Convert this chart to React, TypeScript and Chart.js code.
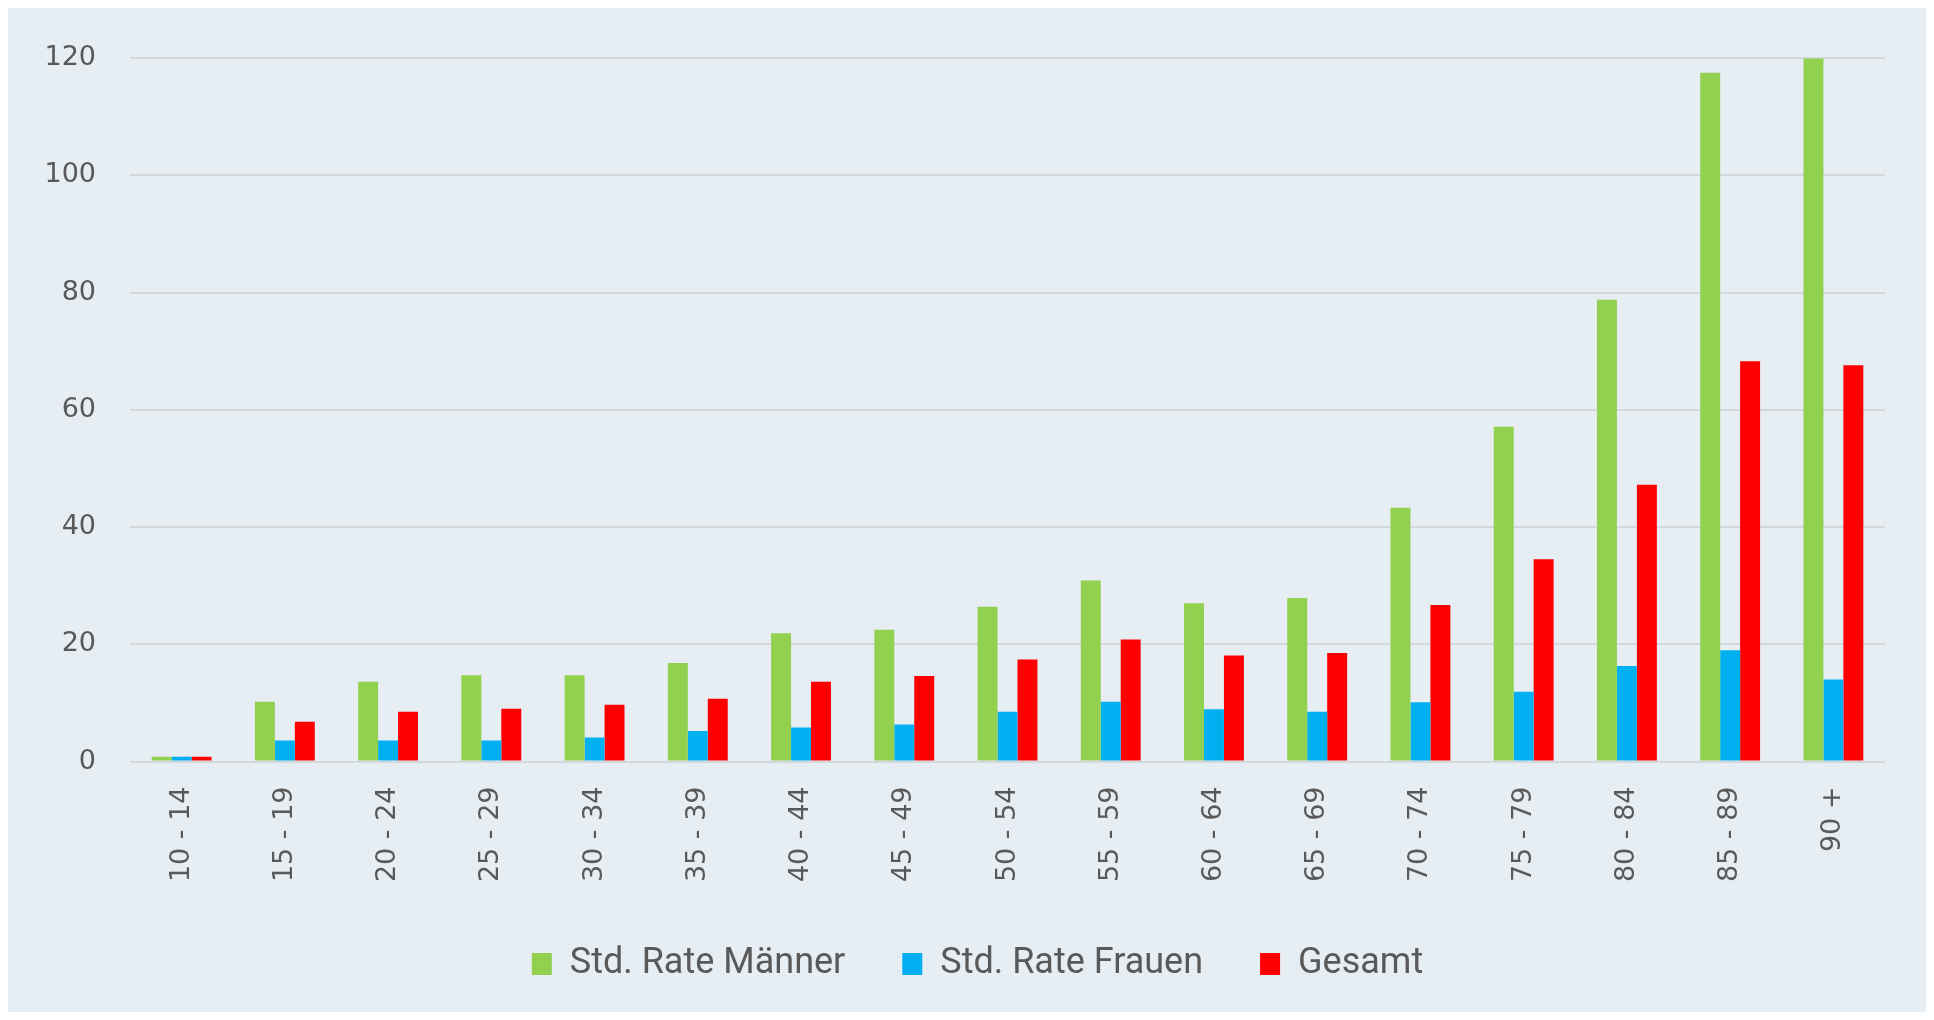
import React, { useEffect, useRef } from "react";
import { Chart, registerables } from "chart.js";

Chart.register(...registerables);

const categories = [
  "10 - 14", "15 - 19", "20 - 24", "25 - 29", "30 - 34", "35 - 39", "40 - 44", "45 - 49",
  "50 - 54", "55 - 59", "60 - 64", "65 - 69", "70 - 74", "75 - 79", "80 - 84", "85 - 89", "90 +",
];
const maenner = [0.8, 10.2, 13.6, 14.7, 14.7, 16.8, 21.9, 22.5, 26.4, 30.9, 27.0, 27.9, 43.3, 57.1, 78.8, 117.5, 120];
const frauen = [0.8, 3.6, 3.6, 3.6, 4.1, 5.2, 5.8, 6.3, 8.5, 10.2, 8.9, 8.5, 10.1, 11.9, 16.3, 19.0, 14.0];
const gesamt = [0.8, 6.8, 8.5, 9.0, 9.7, 10.7, 13.6, 14.6, 17.4, 20.8, 18.1, 18.5, 26.7, 34.5, 47.2, 68.3, 67.6];
const yTicks = [0, 20, 40, 60, 80, 100, 120];

const BG = "#e6edf3";
const TEXT = "#595959";

const bgPlugin = {
  id: "bgFill",
  beforeDraw(chart: any) {
    const { ctx, width, height } = chart;
    ctx.save();
    ctx.fillStyle = BG;
    ctx.fillRect(0, 0, width, height);
    ctx.restore();
  },
};

const legendShift = {
  id: "legendShift",
  afterLayout(chart: any) {
    if (chart.legend) {
      chart.legend.left += 31;
      chart.legend.right += 31;
    }
  },
};

export default function App() {
  const ref = useRef<HTMLCanvasElement | null>(null);
  useEffect(() => {
    if (!ref.current) return;
    const chart = new Chart(ref.current, {
      type: "bar",
      data: {
        labels: categories,
        datasets: [
          { label: "Std. Rate Männer", data: maenner, backgroundColor: "#92d050" },
          { label: "Std. Rate Frauen", data: frauen, backgroundColor: "#00b0f0" },
          { label: "Gesamt", data: gesamt, backgroundColor: "#ff0000" },
        ],
      },
      options: {
        responsive: false,
        animation: false,
        maintainAspectRatio: false,
        datasets: { bar: { categoryPercentage: 0.58, barPercentage: 1.0 } },
        layout: { padding: { top: 46, right: 41, left: 0, bottom: 20 } },
        plugins: {
          tooltip: { enabled: false },
          legend: {
            position: "bottom",
            labels: {
              color: TEXT,
              font: { family: "Roboto, sans-serif", size: 36 },
              boxWidth: 20,
              boxHeight: 22,
              padding: 57,
            },
          },
        },
        scales: {
          x: {
            grid: { display: false, drawTicks: false },
            border: { display: false },
            ticks: {
              color: TEXT,
              font: { family: "'DejaVu Sans', sans-serif", size: 27 },
              minRotation: 90,
              maxRotation: 90,
              padding: 25,
              autoSkip: false,
            },
            afterFit: (s: any) => {
              s.height = 127.5;
            },
          },
          y: {
            min: 0,
            max: 120,
            afterBuildTicks: (s: any) => {
              s.ticks = yTicks.map((v) => ({ value: v }));
            },
            grid: { color: "#d3d8dd", lineWidth: 2, drawTicks: false },
            border: { display: false },
            ticks: {
              color: TEXT,
              font: { family: "'DejaVu Sans', sans-serif", size: 27 },
              padding: 34,
            },
            afterFit: (s: any) => {
              s.width = 122;
            },
          },
        },
      },
      plugins: [bgPlugin, legendShift],
    });
    return () => chart.destroy();
  }, []);
  return (
    <div style={{ width: 1918, height: 1004 }}>
      <canvas ref={ref} width={1918} height={1004} style={{ display: "block" }} />
    </div>
  );
}
